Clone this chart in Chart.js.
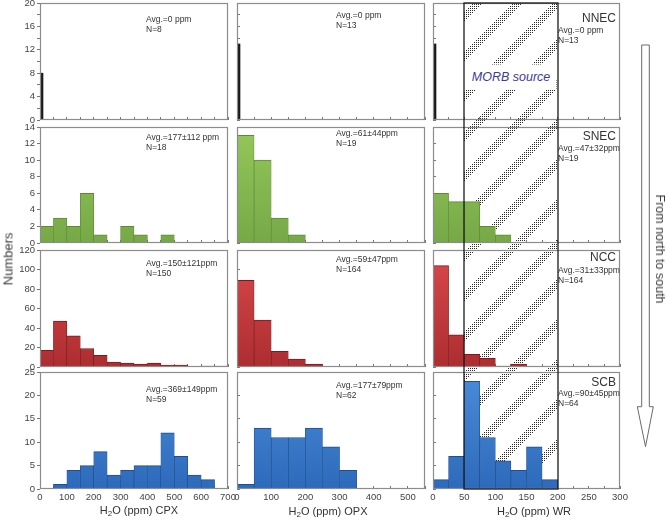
<!DOCTYPE html>
<html>
<head>
<meta charset="utf-8">
<script src="https://cdn.jsdelivr.net/npm/chart.js@4.4.1/dist/chart.umd.min.js"></script>
<style>
  body { margin: 0; background: #fff; }
  #wrap { position: relative; width: 669px; height: 521px; overflow: hidden; font-family: "Liberation Sans", Arial, sans-serif; color: #333; }
  #wrap canvas, #wrap svg { position: absolute; }
  .lbl { position: absolute; white-space: nowrap; transform: translate(-50%, -50%); }
  .lbl sub { font-size: 8px; vertical-align: -2px; }
</style>
</head>
<body>
<div id="wrap">
  <canvas id="hatch" width="669" height="521" style="left:0;top:0;z-index:0"></canvas>
  <div id="morb" class="lbl" style="z-index:1;font-style:italic;font-size:12.5px;color:#3b3b96;background:#fff;text-align:center;">MORB source</div>
  <canvas id="over" width="669" height="521" style="left:0;top:0;z-index:3;pointer-events:none"></canvas>
  <svg width="669" height="521" style="left:0;top:0;z-index:3">
    <polygon points="641.7,45 649.3,45 649.3,406.7 653.3,406.7 645.5,446.7 637.3,406.7 641.7,406.7" fill="#fff" stroke="#6a6a6a" stroke-width="1"/>
  </svg>
  <div class="lbl" style="left:7.5px;top:259px;font-size:13px;color:#3a3a3a;transform:translate(-50%,-50%) rotate(-90deg);">Numbers</div>
  <div class="lbl" style="left:660px;top:248.5px;font-size:12.5px;color:#3a3a3a;transform:translate(-50%,-50%) rotate(90deg);">From north to south</div>
  <div class="lbl" style="left:139px;top:511px;font-size:11px;">H<sub>2</sub>O (ppm) CPX</div>
  <div class="lbl" style="left:328px;top:512px;font-size:11px;">H<sub>2</sub>O (ppm) OPX</div>
  <div class="lbl" style="left:534px;top:512px;font-size:11px;">H<sub>2</sub>O (ppm) WR</div>
</div>
<script>
// bin starts (ppm) for each mineral column
const cpxBins = [0, 50, 100, 150, 200, 250, 300, 350, 400, 450, 500, 550, 600, 650];
const opxBins = [0, 50, 100, 150, 200, 250, 300, 350, 400, 450, 500];
const wrBins = [0, 25, 50, 75, 100, 125, 150, 175, 200, 225, 250, 275];
const spikeBin = [0];

// counts per region
const nnecCpx = [8];
const nnecOpx = [13];
const nnecWr = [13];
const snecCpx = [2, 3, 2, 6, 1, 0, 2, 1, 0, 1, 0, 0, 0, 0];
const snecOpx = [13, 10, 3, 1, 0, 0, 0, 0, 0, 0, 0];
const snecWr = [6, 5, 5, 2, 1, 0, 0, 0, 0, 0, 0, 0];
const nccCpx = [17, 47, 32, 19, 12, 5, 4, 3, 4, 2, 2, 0, 1, 1];
const nccOpx = [89, 48, 16, 8, 3, 0, 0, 0, 0, 0, 0];
const nccWr = [104, 33, 13, 9, 1, 3, 0, 0, 0, 0, 1, 0];
const scbCpx = [0, 1, 4, 5, 8, 3, 4, 5, 5, 12, 7, 3, 2, 0];
const scbOpx = [1, 13, 11, 11, 13, 9, 4, 0, 0, 0, 0];
const scbWr = [2, 7, 23, 11, 6, 4, 9, 2, 0, 0, 0, 0];

const regions = ['NNEC', 'SNEC', 'NCC', 'SCB'];
const stats = [
  [['Avg.=0 ppm', 'N=8'], ['Avg.=0 ppm', 'N=13'], ['Avg.=0 ppm', 'N=13']],
  [['Avg.=177±112 ppm', 'N=18'], ['Avg.=61±44ppm', 'N=19'], ['Avg.=47±32ppm', 'N=19']],
  [['Avg.=150±121ppm', 'N=150'], ['Avg.=59±47ppm', 'N=164'], ['Avg.=31±33ppm', 'N=164']],
  [['Avg.=369±149ppm', 'N=59'], ['Avg.=177±79ppm', 'N=62'], ['Avg.=90±45ppm', 'N=64']]
];
const morbRange = [50, 200];

// axes
const xMax = [700, 550, 300];
const xTickStep = [50, 50, 25];
const xLabelStep = [100, 100, 50];
const yMax = [20, 14, 120, 25];
const yTickStep = [2, 2, 20, 5];
const yLabelStep = [4, 2, 20, 5];

const counts = [
  [nnecCpx, nnecOpx, nnecWr],
  [snecCpx, snecOpx, snecWr],
  [nccCpx, nccOpx, nccWr],
  [scbCpx, scbOpx, scbWr]
];
const bins = [cpxBins, opxBins, wrBins];

// panel frames on the page
const colLeft = [40, 237, 433], colWidth = [188, 188, 187];
const rowTop = [3, 127, 250, 372], rowHeight = [117, 116, 117, 117];
const statDx = [106, 99, 125];
const statDy = [[17, 13, 28], [11, 7, 22], [14, 10, 21], [18, 14, 22]];
const titleDy = [16, 10, 8, 11];

const fills = [
  null,
  ['#95c75b', '#76a847', '#5c8a33'],
  ['#d9494c', '#ad2d30', '#7a1c1f'],
  ['#4a8bd9', '#2e6abb', '#1f4f8e']
];
const FONT = '"Liberation Sans", Arial, sans-serif';

function grad(chart, top, bottom) {
  const a = chart.chartArea;
  if (!a) return bottom;
  const g = chart.ctx.createLinearGradient(0, a.top, 0, a.bottom);
  g.addColorStop(0, top);
  g.addColorStop(1, bottom);
  return g;
}

const panelDeco = {
  id: 'panelDeco',
  afterDatasetsDraw(chart, args, o) {
    const { ctx, chartArea: a } = chart;
    ctx.save();
    ctx.strokeStyle = '#8c8c8c';
    ctx.lineWidth = 1.2;
    ctx.strokeRect(a.left + 0.5, a.top + 0.5, a.right - a.left - 1, a.bottom - a.top - 1);
    ctx.fillStyle = '#333';
    ctx.textBaseline = 'middle';
    ctx.textAlign = 'left';
    ctx.font = '8.5px ' + FONT;
    o.lines.forEach((t, i) => ctx.fillText(t, a.left + o.dx, a.top + o.dy + i * 10));
    if (o.title) {
      ctx.font = '12px ' + FONT;
      ctx.textAlign = 'right';
      ctx.fillText(o.title, a.right - 4, a.top + o.titleDy);
    }
    ctx.restore();
  }
};

const wrap = document.getElementById('wrap');
const charts = [];

for (let r = 0; r < 4; r++) {
  for (let c = 0; c < 3; c++) {
    const starts = r === 0 ? spikeBin : bins[c];
    const half = r === 0 ? 0 : (bins[c][1] - bins[c][0]) / 2;
    const pts = counts[r][c].map((v, i) => ({ x: starts[i] + half, y: v }));
    const mL = c === 0 ? 40 : 10, mR = 10, mT = 8, mB = r === 3 ? 24 : 8;
    const yW = c === 0 ? 34 : 0, xH = r === 3 ? 22 : 0;
    const cv = document.createElement('canvas');
    cv.width = colWidth[c] + mL + mR;
    cv.height = rowHeight[r] + mT + mB;
    cv.style.left = (colLeft[c] - mL) + 'px';
    cv.style.top = (rowTop[r] - mT) + 'px';
    cv.style.zIndex = 2;
    wrap.appendChild(cv);
    const col = fills[r];
    const ds = {
      data: pts,
      backgroundColor: col ? (ctx) => grad(ctx.chart, col[0], col[1]) : '#1a1a1a',
      borderColor: col ? col[2] : '#1a1a1a',
      borderWidth: col ? { top: 1, left: 0.7, right: 0.7, bottom: 0 } : 0,
      borderSkipped: 'start',
      barPercentage: 1,
      categoryPercentage: 1
    };
    if (r === 0) ds.barThickness = 6;
    charts.push(new Chart(cv, {
      type: 'bar',
      data: { datasets: [ds] },
      options: {
        responsive: false,
        animation: false,
        events: [],
        layout: { padding: { left: mL - yW, right: mR, top: mT, bottom: mB - xH } },
        plugins: {
          legend: { display: false },
          tooltip: { enabled: false },
          panelDeco: {
            lines: stats[r][c], dx: statDx[c], dy: statDy[r][c],
            title: c === 2 ? regions[r] : null, titleDy: titleDy[r]
          }
        },
        scales: {
          x: {
            type: 'linear', min: 0, max: xMax[c], offset: false,
            grid: { drawOnChartArea: false, tickLength: -3, color: '#777', offset: false },
            border: { display: false },
            ticks: {
              display: r === 3, stepSize: xTickStep[c], autoSkip: false, maxRotation: 0, minRotation: 0,
              padding: 6, color: '#444', font: { family: FONT, size: 9.5 },
              callback: (v) => v % xLabelStep[c] === 0 ? v : ''
            },
            afterFit: (s) => { s.height = xH; s.paddingLeft = 0; s.paddingRight = 0; }
          },
          y: {
            min: 0, max: yMax[r],
            grid: { drawOnChartArea: false, tickLength: c === 0 ? 3 : -3, color: '#777' },
            border: { display: false },
            ticks: {
              display: c === 0, stepSize: yTickStep[r], autoSkip: false,
              padding: 2, color: '#444', font: { family: FONT, size: 9.5 },
              callback: (v) => v % yLabelStep[r] === 0 ? v : ''
            },
            afterFit: (s) => { s.width = yW; s.paddingTop = 0; s.paddingBottom = 0; }
          }
        }
      },
      plugins: [panelDeco]
    }));
  }
}

// MORB source band across the WR column
const topWr = charts[2], botWr = charts[11];
const offX = parseFloat(topWr.canvas.style.left);
const x0 = Math.round(offX + topWr.scales.x.getPixelForValue(morbRange[0]));
const x1 = Math.round(offX + topWr.scales.x.getPixelForValue(morbRange[1]));
const y0 = Math.round(parseFloat(topWr.canvas.style.top) + topWr.chartArea.top);
const y1 = Math.round(parseFloat(botWr.canvas.style.top) + botWr.chartArea.bottom);

// dotted diagonal stripes
const hc = document.getElementById('hatch').getContext('2d');
const img = hc.createImageData(x1 - x0, y1 - y0);
for (let y = 0; y < y1 - y0; y++) {
  for (let x = 0; x < x1 - x0; x++) {
    const gx = x0 + x, gy = y0 + y;
    const m = (gx + gy) % 40;
    const inBand = m >= 35 || m < 5;
    if (inBand && gx % 2 === 0 && gy % 2 === 0) {
      const k = (y * (x1 - x0) + x) * 4;
      img.data[k] = 40; img.data[k + 1] = 40; img.data[k + 2] = 40; img.data[k + 3] = 255;
    }
  }
}
hc.putImageData(img, x0, y0);

const morb = document.getElementById('morb');
morb.style.left = ((x0 + x1) / 2) + 'px';
morb.style.top = '76.5px';
morb.style.width = (x1 - x0 - 3) + 'px';
morb.style.lineHeight = '25px';

const oc = document.getElementById('over').getContext('2d');
oc.strokeStyle = '#1a1a1a';
oc.lineWidth = 1.3;
oc.strokeRect(x0, y0, x1 - x0, y1 - y0);
</script>
</body>
</html>
